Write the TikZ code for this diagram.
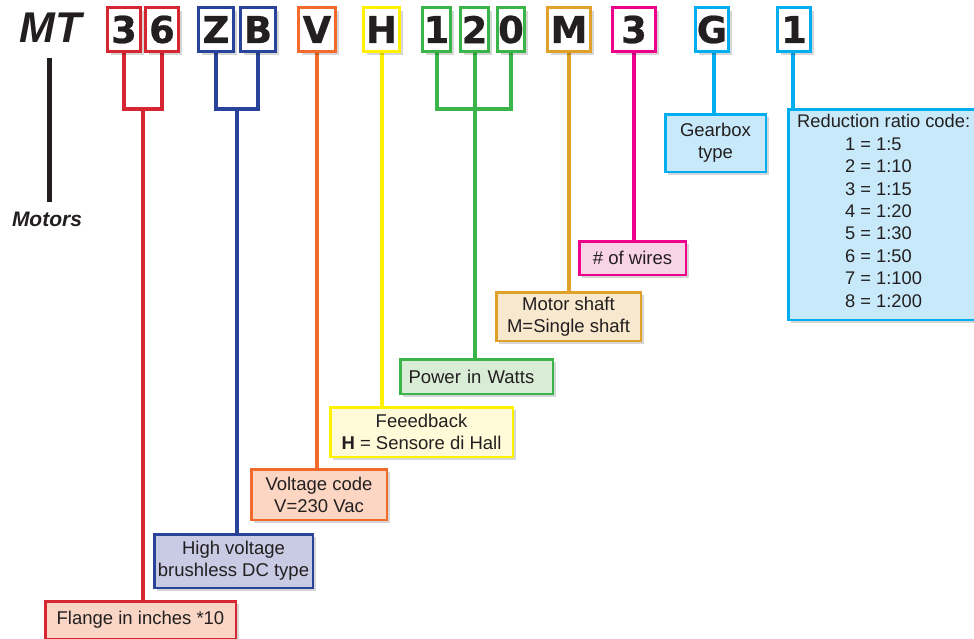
\documentclass[tikz,border=0pt]{standalone}
\usepackage{fontspec}
\setmainfont{Liberation Sans}
\newfontfamily\letfont[BoldFeatures={FakeBold=0.6}]{DejaVu Sans}
\usetikzlibrary{shadows,backgrounds}
\definecolor{txt}{HTML}{231F20}
\definecolor{cred}{HTML}{D62631}
\definecolor{fred}{HTML}{F9D5C5}
\definecolor{cblue}{HTML}{29439A}
\definecolor{fblue}{HTML}{C9CAE4}
\definecolor{corange}{HTML}{F26A2C}
\definecolor{forange}{HTML}{FCD6C3}
\definecolor{cyellow}{HTML}{FFF100}
\definecolor{fyellow}{HTML}{FFFAD8}
\definecolor{cgreen}{HTML}{3AB54A}
\definecolor{fgreen}{HTML}{D9EDD6}
\definecolor{cgold}{HTML}{DFA129}
\definecolor{fgold}{HTML}{F7E8CE}
\definecolor{cmag}{HTML}{EC008C}
\definecolor{fmag}{HTML}{F9D3E6}
\definecolor{ccyan}{HTML}{00AEEF}
\definecolor{fcyan}{HTML}{C7E9F9}
\tikzset{
  softshadow/.style={drop shadow={shadow xshift=3pt,shadow yshift=-3pt,opacity=0.16,fill=black}},
  letbox/.style={draw=#1, line width=3pt, fill=white, minimum height=44pt, inner sep=0pt,
    font=\letfont\bfseries\fontsize{37}{37}\selectfont, text=txt, softshadow},
  lab/.style 2 args={draw=#1, fill=#2, line width=2.5pt, align=center, inner sep=0pt,
    font=\fontsize{18.5}{22}\selectfont, text=txt, softshadow},
  conn/.style={draw=#1, line width=4pt, line join=miter},
}
\begin{document}
\begin{tikzpicture}[x=1pt,y=-1pt]
\useasboundingbox (0,0) rectangle (974,638);
% title
\node[font=\bfseries\itshape\fontsize{43}{43}\selectfont, text=txt, inner sep=0pt] (mt) at (51,28) {MT};
\node[font=\bfseries\itshape\fontsize{21}{21}\selectfont, text=txt, inner sep=0pt] (motors) at (47,219) {Motors};
\coordinate (ml1) at (49.5,58);
\coordinate (ml2) at (49.5,202);
\draw[line width=5pt, txt] (ml1) -- (ml2);
% letter boxes
\node[letbox=cred, minimum width=33pt] (b3) at (124,29.5) {3};
\node[letbox=cred, minimum width=33pt] (b6) at (162,29.5) {6};
\node[letbox=cblue, minimum width=35pt] (bZ) at (216,29.5) {Z};
\node[letbox=cblue, minimum width=35pt] (bB) at (258,29.5) {B};
\node[letbox=corange, minimum width=37pt] (bV) at (317,29.5) {V};
\node[letbox=cyellow, minimum width=36pt] (bH) at (381.5,29.5) {H};
\node[letbox=cgreen, minimum width=28pt] (b1) at (436.5,29.5) {1};
\node[letbox=cgreen, minimum width=28pt] (b2) at (474.5,29.5) {2};
\node[letbox=cgreen, minimum width=27pt] (b0) at (511,29.5) {0};
\node[letbox=cgold, minimum width=43pt] (bM) at (569,29.5) {M};
\node[letbox=cmag, minimum width=43pt] (b3b) at (634,29.5) {3};
\node[letbox=ccyan, minimum width=33pt] (bG) at (712,29.5) {G};
\node[letbox=ccyan, minimum width=33pt] (b1b) at (794,29.5) {1};
% label boxes
\node[lab={cred}{fred}, minimum width=190.5pt, minimum height=37.5pt] (fl) at (140.5,620) {Flange in inches *10};
\node[lab={cblue}{fblue}, minimum width=158.5pt, minimum height=53.5pt] (hv) at (233.5,561) {High voltage\\brushless DC type};
\node[lab={corange}{forange}, minimum width=135.5pt, minimum height=50.5pt] (vc) at (319,494.5) {Voltage code\\V=230 Vac};
\node[lab={cyellow}{fyellow}, minimum width=182.5pt, minimum height=49.5pt] (fb) at (421.5,432) {Feeedback\\\textbf{H} = Sensore di Hall};
\node[lab={cgreen}{fgreen}, align=left, text width=136pt, inner xsep=8.25pt, minimum height=34.5pt] (pw) at (476.5,376.5) {Power in Watts};
\node[lab={cgold}{fgold}, minimum width=144.5pt, minimum height=48.5pt] (ms) at (568.5,316.5) {Motor shaft\\M=Single shaft};
\node[lab={cmag}{fmag}, minimum width=106.5pt, minimum height=33.5pt] (nw) at (632.5,258) {\# of wires};
\node[lab={ccyan}{fcyan}, minimum width=100.5pt, minimum height=57.5pt] (gb) at (715.5,143) {Gearbox\\type};
\node[lab={ccyan}{fcyan}, minimum width=205.5pt, minimum height=210.5pt] (rd) at (891,214.5) {};
\node[anchor=north west, align=left, inner sep=0pt, font=\fontsize{18.3}{22.4}\selectfont, text=txt] (rdt) at (797,114.5) {Reduction ratio code:\\
\hspace*{48pt}1 = 1:5\\
\hspace*{48pt}2 = 1:10\\
\hspace*{48pt}3 = 1:15\\
\hspace*{48pt}4 = 1:20\\
\hspace*{48pt}5 = 1:30\\
\hspace*{48pt}6 = 1:50\\
\hspace*{48pt}7 = 1:100\\
\hspace*{48pt}8 = 1:200};
% connectors
\coordinate (rj) at (143,109);
\coordinate (bj) at (237,109);
\coordinate (gj) at (474.5,109);
\begin{scope}[on background layer]
\draw[conn=cred] (b3.south) |- (rj) -| (b6.south);
\draw[conn=cred] (rj) -- (rj |- fl.north);
\draw[conn=cblue] (bZ.south) |- (bj) -| (bB.south);
\draw[conn=cblue] (bj) -- (bj |- hv.north);
\draw[conn=corange] (bV.south) -- (bV.south |- vc.north);
\draw[conn=cyellow] (bH.south) -- (bH.south |- fb.north);
\draw[conn=cgreen] (b1.south) |- (gj) -| (b0.south);
\draw[conn=cgreen] (b2.south) -- (b2.south |- pw.north);
\draw[conn=cgold] (bM.south) -- (bM.south |- ms.north);
\draw[conn=cmag] (b3b.south) -- (b3b.south |- nw.north);
\draw[conn=ccyan] ([xshift=2pt]bG.south) -- ([xshift=2pt]bG.south |- gb.north);
\draw[conn=ccyan] ([xshift=-1pt]b1b.south) -- ([xshift=-1pt]b1b.south |- rd.north);
\end{scope}
\end{tikzpicture}
\end{document}
